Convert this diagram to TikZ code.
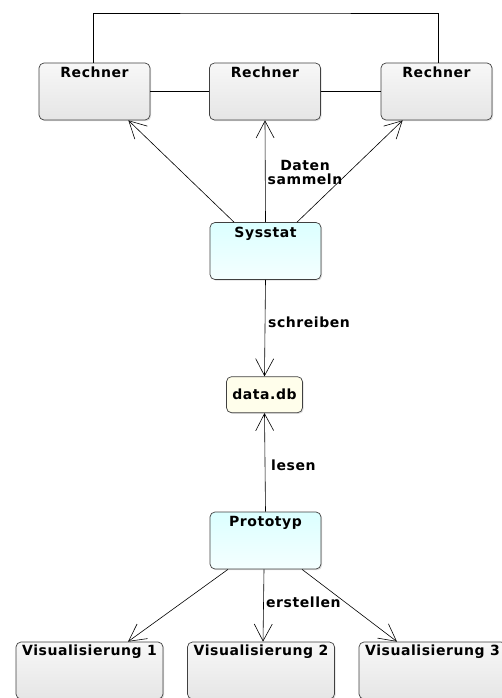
\documentclass[tikz,border=0pt]{standalone}
\usepackage{fontspec}
\setmainfont[LetterSpace=4]{DejaVu Sans}
\usetikzlibrary{arrows.meta, positioning, shadows}

\begin{document}
\begin{tikzpicture}[x=1pt, y=-1pt, font=\fontsize{14}{16}\selectfont\bfseries,
		box/.style={draw=black!75, line width=0.7pt, rounded corners=5pt, minimum width=111pt, minimum height=57pt, inner sep=0pt,
			drop shadow={opacity=0.25, shadow xshift=1.2pt, shadow yshift=-1.2pt}},
		boxtitle/.style={anchor=north, inner sep=4.5pt},
		rechnerbox/.style={box, top color=gray!6, bottom color=gray!20, label={[boxtitle]north:#1}},
		prozessbox/.style={box, top color=cyan!14, bottom color=cyan!4, label={[boxtitle]north:#1}},
		visbox/.style={box, minimum width=147pt, top color=gray!6, bottom color=gray!20, label={[boxtitle, inner sep=3pt]north:#1}},
		dbbox/.style={box, minimum width=76pt, minimum height=36pt, fill=yellow!8},
		pfeil/.style={-{Straight Barb[length=17pt, width=18pt]}, line width=0.6pt},
		kante/.style={line width=0.6pt}]
		\clip (0,0) rectangle (502,698);
		% Nodes:
		\node[rechnerbox=Rechner] (r1) at (94.5, 91.5){};
		\node[rechnerbox=Rechner] (r2) at (265, 91.5){};
		\node[rechnerbox=Rechner] (r3) at (436.5, 91.5){};
		\node[prozessbox=Sysstat] (sys) at (265.5, 251){};
		\node[dbbox] (db) at (264.5, 394.7){data.db};
		\node[prozessbox=Prototyp] (proto) at (265.5, 540.5){};
		\node[visbox={Visualisierung 1}] (v1) at (89.5, 670.5){};
		\node[visbox={Visualisierung 2}] (v2) at (261, 670.5){};
		\node[visbox={Visualisierung 3}] (v3) at (432.5, 670.5){};
		\coordinate (oben) at (265, 13);
		% Paths:
		\draw[kante] ([xshift=-1.5pt]r1.north) |- (oben) -| ([xshift=1.5pt]r3.north);
		\draw[kante] (r1) -- (r2);
		\draw[kante] (r2) -- (r3);
		\draw[pfeil] ([xshift=-31.5pt]sys.north) -- ([xshift=-22pt]r1.south east);
		\draw[pfeil] (sys.north) -- (r2.south);
		\draw[pfeil] ([xshift=31.5pt]sys.north) -- ([xshift=22pt]r3.south west);
		\draw[pfeil] (sys.south) -- (db.north);
		\draw[pfeil] (proto.north) -- (db.south);
		\draw[pfeil] ([xshift=-37.5pt]proto.south) -- ([xshift=38.5pt]v1.north);
		\draw[pfeil] ([xshift=-1.5pt]proto.south) -- ([xshift=2pt]v2.north);
		\draw[pfeil] ([xshift=36.5pt]proto.south) -- ([xshift=-35.5pt]v3.north);
		% Labels:
		\node[align=center, inner sep=0pt] (daten) at (305, 172){Daten\\[-2pt]sammeln};
		\node[anchor=west, inner sep=0pt] (schreiben) at (268, 322){schreiben};
		\node[anchor=west, inner sep=0pt] (lesen) at (271, 465){lesen};
		\node[anchor=west, inner sep=0pt] (erstellen) at (266, 602){erstellen};
	\end{tikzpicture}
\end{document}
